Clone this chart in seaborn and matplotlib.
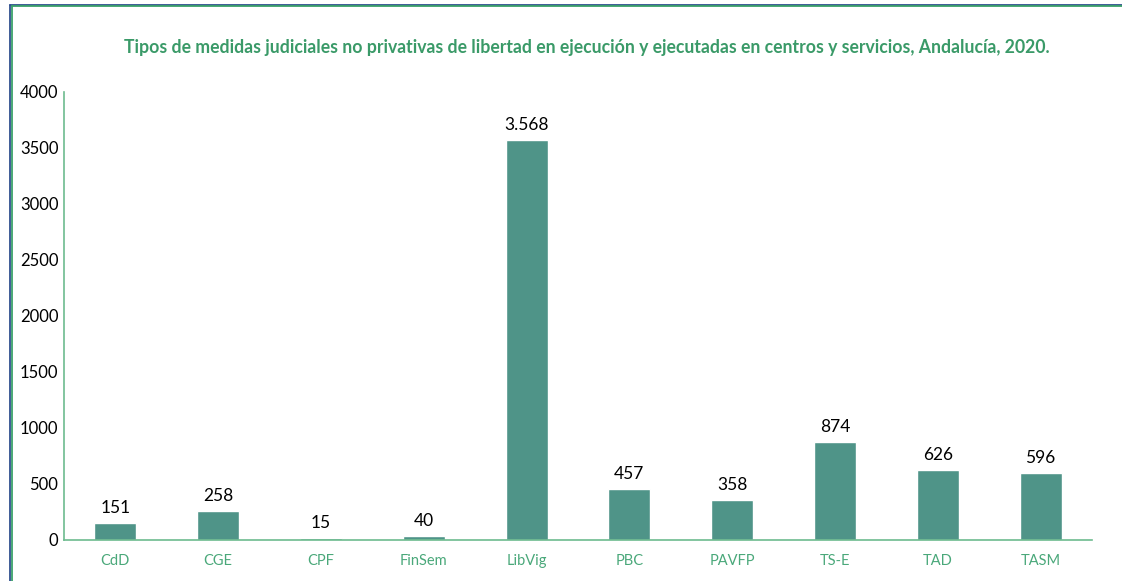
import matplotlib
matplotlib.use("Agg")
import matplotlib.pyplot as plt
import seaborn as sns
import pandas as pd
from matplotlib.lines import Line2D

categories = ["CdD", "CGE", "CPF", "FinSem", "LibVig", "PBC", "PAVFP", "TS-E", "TAD", "TASM"]
values = [151, 258, 15, 40, 3568, 457, 358, 874, 626, 596]
labels = ["151", "258", "15", "40", "3.568", "457", "358", "874", "626", "596"]
yticks = [0, 500, 1000, 1500, 2000, 2500, 3000, 3500, 4000]
title = "Tipos de medidas judiciales no privativas de libertad en ejecución y ejecutadas en centros y servicios, Andalucía, 2020."

sns.set_theme(style="white")
plt.rcParams['font.family'] = ['Lato', 'DejaVu Sans']

df = pd.DataFrame({"cat": categories, "val": values})

fig = plt.figure(figsize=(11.22, 5.81), dpi=100)
ax = fig.add_axes([64/1122, 1-540/581, (1092-64)/1122, (540-92)/581])

bar_color = "#4f9488"
green = "#4aa87a"
sns.barplot(data=df, x="cat", y="val", color=bar_color, width=0.41, ax=ax, saturation=1)

ax.set_ylim(0, 4000)
ax.set_xlim(-0.5, len(categories) - 0.5)
ax.set_yticks(yticks)
ax.set_yticklabels([str(t) for t in yticks], fontsize=12, color="black")
ax.tick_params(axis="y", length=0, pad=4)
ax.tick_params(axis="x", length=0, pad=10, labelsize=10.5, labelcolor=green)
ax.set_xlabel("")
ax.set_ylabel("")

for s in ["top", "right"]:
    ax.spines[s].set_visible(False)
for s in ["left", "bottom"]:
    ax.spines[s].set_color("#6dbb8f")
    ax.spines[s].set_linewidth(1.2)

for i, (v, lab) in enumerate(zip(values, labels)):
    ax.annotate(lab, (i, v), xytext=(0, 5), textcoords="offset points",
                ha="center", va="bottom", fontsize=12.5, color="black")

fig.text(587/1122, 1-47/581, title, ha="center", va="center", fontsize=12.7,
         fontweight="bold", color="#3a9a68")

# chart frame (blue outer, green inner) on top and left
W, H = 1122, 581
fig.add_artist(Line2D([10/W, 10/W], [0, 1-4.5/H], color="#2f4f8f", lw=1.3, transform=fig.transFigure))
fig.add_artist(Line2D([10/W, 1], [1-4.5/H, 1-4.5/H], color="#2f4f8f", lw=1.3, transform=fig.transFigure))
fig.add_artist(Line2D([11.8/W, 11.8/W], [0, 1-6.3/H], color="#3aa06a", lw=1.3, transform=fig.transFigure))
fig.add_artist(Line2D([11.8/W, 1], [1-6.3/H, 1-6.3/H], color="#3aa06a", lw=1.3, transform=fig.transFigure))

fig.savefig("out.png", dpi=100)
